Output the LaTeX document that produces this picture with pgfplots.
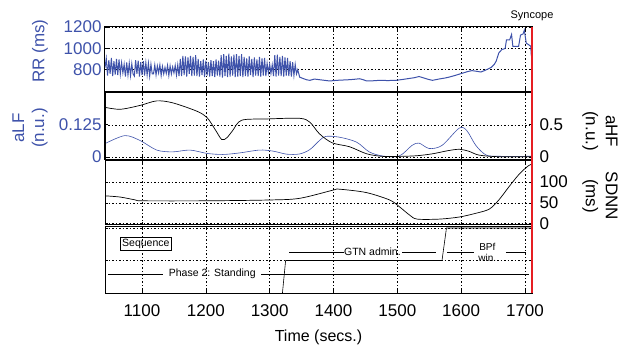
\documentclass[border=0pt]{standalone}
\usepackage{fontspec}
\setmainfont{Liberation Sans}
\usepackage{pgfplots}
\pgfplotsset{compat=1.18}
\usetikzlibrary{calc}
\definecolor{rrblue}{RGB}{62,82,170}
\definecolor{synred}{RGB}{230,30,35}
\begin{document}
\begin{tikzpicture}
\path[use as bounding box] (-105pt,0pt) rectangle (513pt,-345pt);
\pgfplotsset{
  panel/.style={
    scale only axis, width=427pt,
    xmin=1042, xmax=1711,
    xtick={1100,1200,1300,1400,1500,1600,1700},
    grid=major,
    major grid style={black, line width=0.5pt, dash pattern=on 1.5pt off 2pt},
    axis line style={line width=1pt},
    tick style={black, line width=0.6pt},
    major tick length=3pt,
    clip mode=individual,
    /pgf/number format/assume math mode=true,
    /pgf/number format/1000 sep={},
    ticklabel style={font=\fontsize{17}{17}\selectfont},
    xticklabel style={yshift=-8pt},
    anchor=north west,
  }
}
% ---------- Panel 1: RR ----------
\begin{axis}[panel, name=p1, at={(0pt,-27pt)}, height=64pt,
  ymin=600, ymax=1200, ytick={800,1000,1200}, xticklabels={},
  yticklabel style={text=rrblue}]
\addplot[rrblue, line width=1pt] coordinates {
(1042,820)(1044,905)(1046,745)(1048,890)(1050,760)(1052,910)(1054,740)(1056,880)(1058,755)(1060,900)(1062,750)(1064,895)(1066,760)
(1068,865)(1070,770)(1072,850)(1074,735)(1076,868)(1078,750)(1080,860)(1082,745)(1084,855)(1086,760)
(1088,740)(1090,890)(1092,760)(1094,885)(1096,735)(1098,870)(1100,750)(1102,880)
(1104,745)(1106,865)(1108,750)(1110,860)(1112,740)(1114,850)(1116,760)
(1118,760)(1120,845)(1122,750)(1124,835)(1126,770)(1128,845)(1130,745)(1132,830)(1134,760)(1136,820)(1138,765)(1140,840)(1142,745)(1144,835)(1146,760)(1148,825)(1150,770)(1152,840)(1154,750)(1156,845)
(1158,740)(1160,900)(1162,740)(1164,930)(1166,750)(1168,925)(1170,735)(1172,915)(1174,760)(1176,930)(1178,740)(1180,920)(1182,745)(1184,935)(1186,740)
(1188,900)(1190,735)(1192,880)(1194,750)(1196,895)(1198,730)(1200,885)(1202,745)(1204,870)(1206,735)(1208,890)(1210,740)(1212,880)(1214,730)(1216,895)(1218,745)(1220,885)(1222,735)
(1224,935)(1226,725)(1228,945)(1230,740)(1232,930)(1234,730)(1236,950)(1238,735)(1240,925)(1242,745)(1244,940)(1246,730)(1248,945)(1250,735)(1252,930)(1254,740)(1256,945)(1258,730)
(1260,920)(1262,740)(1264,905)(1266,735)(1268,925)(1270,750)(1272,900)(1274,730)(1276,915)(1278,745)(1280,895)(1282,740)(1284,920)(1286,735)(1288,905)(1290,745)(1292,910)(1294,740)
(1296,860)(1298,770)(1300,850)(1302,765)(1304,845)
(1306,740)(1308,935)(1310,735)(1312,940)(1314,745)(1316,920)(1318,740)(1320,930)(1322,735)(1324,915)(1326,745)(1328,910)
(1330,740)(1332,880)(1334,735)(1336,870)(1338,745)(1340,850)(1342,760)(1344,800)(1347,730)
(1352,718)(1358,705)(1363,700)(1370,712)(1378,706)(1386,700)(1394,694)(1405,700)(1415,703)(1425,706)(1433,710)(1441,715)(1447,705)(1452,694)(1462,696)(1472,700)(1485,698)(1498,700)(1508,708)(1519,718)(1527,725)(1534,736)(1540,725)(1548,710)(1555,700)(1565,712)(1575,722)(1581,730)(1590,745)(1602,767)(1610,782)(1617,791)(1624,785)(1631,778)(1638,795)(1647,821)(1652,850)(1655,882)(1659,957)(1664,990)(1667,994)(1669,1000)(1671,1079)(1676,1080)(1679,1130)(1681,1018)(1690,1018)(1693,1124)(1697,1135)(1699,1170)(1702,1048)(1706,1033)(1709,1020)(1710,927)
};
\node[rotate=90, text=rrblue, font=\fontsize{17}{17}\selectfont] at ($(rel axis cs:0,0.625)+(-65pt,0pt)$) {RR (ms)};
\end{axis}
% ---------- Panel 2: aLF (left) ----------
\begin{axis}[panel, name=p2, at={(0pt,-92.5pt)}, height=66.5pt,
  ymin=-0.0076, ymax=0.25, ytick={0,0.125,0.25}, yticklabels={0,0.125,{}}, xticklabels={},
  yticklabel style={text=rrblue}, ytick pos=left]
\addplot[rrblue, line width=0.6pt, smooth] coordinates {
(1042,0.052)(1073,0.083)(1097,0.064)(1123,0.027)(1148,0.020)(1175,0.027)(1202,0.014)(1227,0.010)(1253,0.016)(1284,0.027)(1305,0.023)(1327,0.011)(1347,0.012)(1363,0.029)(1378,0.064)(1388,0.080)(1409,0.077)(1436,0.058)(1456,0.020)(1477,0.004)(1503,0.004)(1523,0.045)(1534,0.054)(1550,0.033)(1570,0.045)(1597,0.112)(1609,0.102)(1623,0.045)(1639,0.008)(1659,0.003)(1711,0.003)
};
\node[rotate=90, text=rrblue, align=center, font=\fontsize{17}{20}\selectfont] at ($(rel axis cs:0,0.466)+(-75pt,0pt)$) {aLF\\(n.u.)};
\end{axis}
% ---------- Panel 2: aHF (right) ----------
\begin{axis}[panel, at={(0pt,-92.5pt)}, height=66.5pt, grid=none,
  ymin=-0.0304, ymax=1, ytick={0,0.5}, yticklabel pos=right, ytick pos=right,
  yticklabel style={xshift=4pt},
  xticklabels={}, xtick pos=bottom]
\addplot[black, line width=0.7pt, smooth] coordinates {
(1042,0.77)(1066,0.74)(1097,0.80)(1123,0.87)(1148,0.84)(1186,0.71)(1202,0.61)(1215,0.42)(1225,0.27)(1233,0.30)(1242,0.41)(1256,0.57)(1295,0.59)(1347,0.60)(1363,0.54)(1378,0.36)(1398,0.22)(1425,0.16)(1452,0.05)(1477,0.01)(1503,0.01)(1530,0.02)(1555,0.05)(1580,0.10)(1597,0.12)(1612,0.09)(1628,0.03)(1659,0.005)(1711,0.005)
};
\node[rotate=-90, align=center, font=\fontsize{17}{20}\selectfont] at ($(rel axis cs:1,0.42)+(68pt,0pt)$) {aHF\\(n.u.)};
\end{axis}
% ---------- Panel 3: SDNN ----------
\begin{axis}[panel, name=p3, at={(0pt,-160.5pt)}, height=64pt,
  ymin=-2, ymax=152, ytick={0,50,100}, yticklabel pos=right, xticklabels={},
  yticklabel style={xshift=4pt}]
\addplot[black, line width=0.7pt, smooth] coordinates {
(1042,67)(1066,64)(1090,57)(1102,55)(1200,55)(1300,57)(1347,61)(1400,81)(1409,83)(1451,75)(1488,57)(1503,41)(1519,21)(1531,11)(1566,11)(1597,16)(1623,25)(1644,35)(1659,57)(1675,89)(1692,121)(1706,140)(1711,143)
};
\node[rotate=-90, align=center, font=\fontsize{17}{20}\selectfont] at ($(rel axis cs:1,0.445)+(68pt,0pt)$) {SDNN\\(ms)};
\end{axis}
% ---------- Panel 4: Sequence ----------
\begin{axis}[panel, name=p4, at={(0pt,-226pt)}, height=67pt,
  ymin=0, ymax=2.06, ytick={1,2}, yticklabels={},
  xlabel={Time (secs.)}, xlabel style={font=\fontsize{16}{16}\selectfont, yshift=-6pt}]
\addplot[black, line width=0.6pt] coordinates {(1320,0)(1325,1)(1570,1)(1577,2)(1711,2)};
\addplot[black, line width=0.5pt] coordinates {(1047,0.58)(1133,0.58)};
\addplot[black, line width=0.5pt] coordinates {(1287,0.58)(1706,0.58)};
\addplot[black, line width=0.5pt] coordinates {(1331,1.26)(1417,1.26)};
\addplot[black, line width=0.5pt] coordinates {(1508,1.26)(1561,1.26)};
\addplot[black, line width=0.5pt] coordinates {(1578,1.26)(1620,1.26)};
\addplot[black, line width=0.5pt] coordinates {(1670,1.26)(1702,1.26)};
\node[font=\fontsize{10.5}{10.5}\selectfont] at (axis cs:1210,0.58) {Phase 2: Standing};
\node[font=\fontsize{10.5}{10.5}\selectfont] at (axis cs:1461,1.26) {GTN admin.};
\node[align=center, font=\fontsize{10}{11}\selectfont] at (axis cs:1641,1.24) {BPf\\win.};
\node[draw, line width=0.5pt, inner sep=1.5pt, font=\fontsize{10.5}{10.5}\selectfont] at (axis cs:1106,1.51) {Sequence};
\end{axis}
\draw[synred, line width=2pt] (p1.north east) -- (p4.south east);
\node[anchor=south, font=\fontsize{11}{11}\selectfont, inner sep=2pt] at ($(p1.north east)+(0pt,4pt)$) {Syncope};
\end{tikzpicture}
\end{document}
